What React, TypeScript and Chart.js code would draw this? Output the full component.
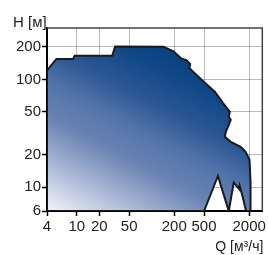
import React, { useEffect, useRef } from "react";
import { Chart, registerables } from "chart.js";

Chart.register(...registerables);

// Pump performance envelope (Q [m³/h], H [m]), traced in path order
const envelopeQ = [4, 4, 5.34, 8.95, 9.36, 29.7, 32.5, 144, 195, 249, 290, 327, 318, 348, 516, 700, 892, 1103, 1070, 1137, 977, 948, 1137, 1541, 1794, 2026, 2088, 2088, 1821, 1638, 1495, 1470, 1246, 1070, 766, 501, 4];
const envelopeH = [6, 121, 155, 155, 166, 166, 202, 201, 182, 156, 151, 139, 128, 120, 92.8, 76.6, 60.5, 50, 44.9, 42.1, 32.6, 29.3, 26.3, 23.7, 21.3, 17.9, 11, 6, 6, 8.14, 10.3, 9.6, 11.0, 6, 12.7, 6, 6];

const xTicks = [4, 10, 20, 50, 200, 500, 2000];
const yTicks = [6, 10, 20, 50, 100, 200];
const xRange = [4, 3000];
const yRange = [6, 300];
const xTitle = "Q [м³/ч]";
const yTitle = "H [м]";

const FONT = '"Liberation Sans", Arial, sans-serif';

export default function App() {
  const ref = useRef<HTMLCanvasElement | null>(null);
  useEffect(() => {
    if (!ref.current) return;
    const points = envelopeQ.map((q, i) => ({ x: q, y: envelopeH[i] }));
    const framePlugin = {
      id: "frame",
      afterDraw(chart: any) {
        const { ctx, chartArea: a } = chart;
        ctx.save();
        ctx.strokeStyle = "#444";
        ctx.lineWidth = 1.5;
        ctx.beginPath();
        ctx.moveTo(a.left, a.top);
        ctx.lineTo(a.right, a.top);
        ctx.lineTo(a.right, a.bottom);
        ctx.stroke();
        ctx.fillStyle = "#222";
        ctx.textBaseline = "alphabetic";
        ctx.font = `15px ${FONT}`;
        ctx.textAlign = "left";
        ctx.fillText(yTitle, a.left - 34, a.top - 1);
        ctx.font = `14px ${FONT}`;
        ctx.textAlign = "right";
        ctx.fillText(xTitle, a.right + 1, a.bottom + 40);
        ctx.restore();
      },
    };
    const chart = new Chart(ref.current, {
      type: "scatter",
      data: {
        datasets: [
          {
            data: points,
            showLine: true,
            fill: "shape",
            tension: 0,
            pointRadius: 0,
            borderColor: "#1a1a1a",
            borderWidth: 2,
            backgroundColor: (c: any) => {
              const a = c.chart.chartArea;
              if (!a) return "#2a5592";
              const g = c.chart.ctx.createLinearGradient(a.left, a.bottom, a.left + (a.right - a.left) * 0.45, a.top);
              g.addColorStop(0, "#f2f4fa");
              g.addColorStop(0.2, "#aebad8");
              g.addColorStop(0.4, "#6a84b3");
              g.addColorStop(0.55, "#5374aa");
              g.addColorStop(0.7, "#2c5793");
              g.addColorStop(0.88, "#0e4686");
              g.addColorStop(1, "#0a3e7f");
              return g;
            },
          },
        ],
      },
      options: {
        responsive: false,
        animation: false,
        layout: { padding: { top: 28, right: 3, left: 0, bottom: 0 } },
        plugins: { legend: { display: false }, tooltip: { enabled: false } },
        scales: {
          x: {
            type: "logarithmic",
            min: xRange[0],
            max: xRange[1],
            z: 1,
            afterFit: (s: any) => { s.height = 44; },
            afterBuildTicks: (s: any) => { s.ticks = xTicks.map((v) => ({ value: v })); },
            grid: { color: "rgba(0,0,0,0.27)", lineWidth: 1, tickLength: 5, tickColor: "#000", tickWidth: 1.5 },
            border: { color: "#000", width: 2 },
            ticks: { color: "#222", font: { family: FONT, size: 15 }, padding: 2, maxRotation: 0, autoSkip: false, callback: (v: any) => String(v) },
          },
          y: {
            type: "logarithmic",
            min: yRange[0],
            max: yRange[1],
            z: 1,
            afterFit: (s: any) => { s.width = 47; },
            afterBuildTicks: (s: any) => { s.ticks = yTicks.map((v) => ({ value: v })); },
            grid: { color: "rgba(0,0,0,0.27)", lineWidth: 1, tickLength: 5, tickColor: "#000", tickWidth: 1.5 },
            border: { color: "#000", width: 2 },
            ticks: { color: "#222", font: { family: FONT, size: 15 }, padding: 1, autoSkip: false, callback: (v: any) => String(v) },
          },
        },
      },
      plugins: [framePlugin],
    });
    return () => chart.destroy();
  }, []);
  return (
    <div style={{ position: "absolute", left: 0, top: 0, width: 268, height: 255 }}>
      <canvas ref={ref} width={268} height={255} style={{ display: "block" }} />
    </div>
  );
}
